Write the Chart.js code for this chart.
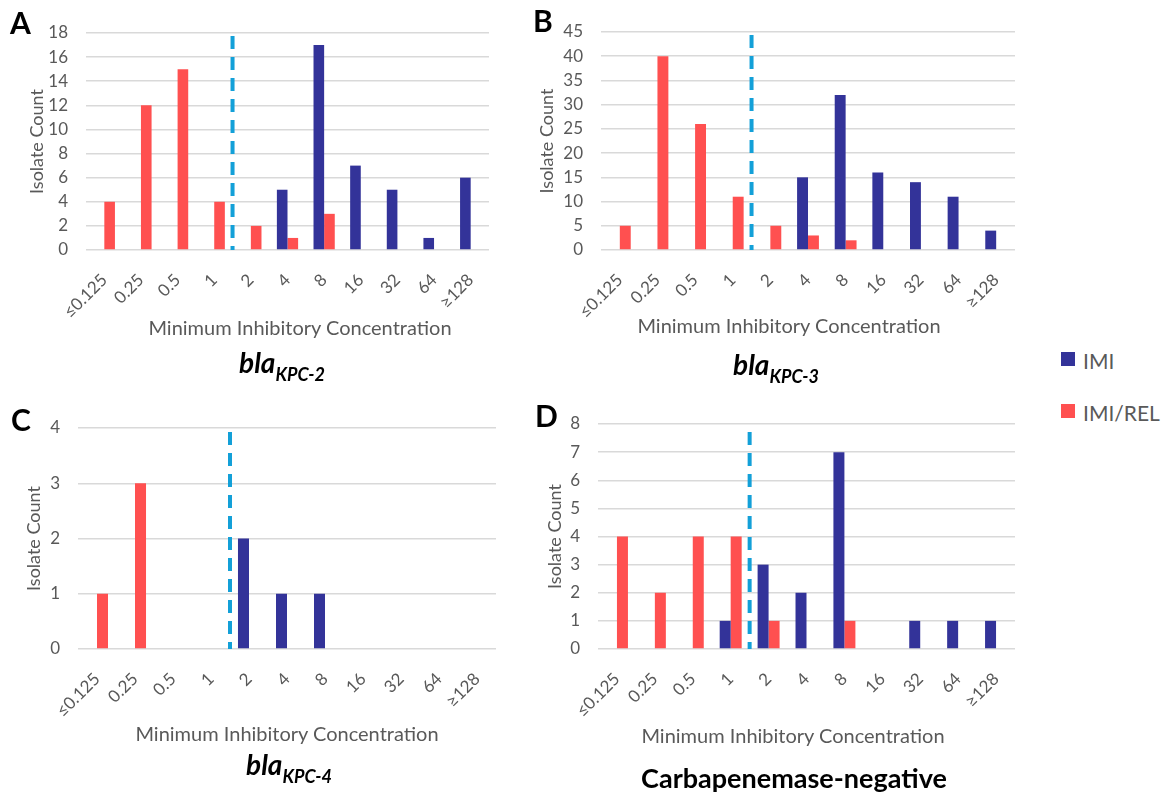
<!DOCTYPE html>
<html>
<head>
<meta charset="utf-8">
<script src="https://cdn.jsdelivr.net/npm/chart.js@4.4.1/dist/chart.umd.min.js"></script>
<style>
  html, body { margin: 0; padding: 0; background: #fff; }
  #page { position: relative; width: 1165px; height: 793px; overflow: hidden; background: #fff; font-family: Lato, "Open Sans", sans-serif; }
  .box { position: absolute; }
  .t { position: absolute; white-space: nowrap; line-height: 1; transform: translate(-50%, -50%); }
  .letter { position: absolute; font-weight: 700; font-size: 30px; color: #000; line-height: 1; }
  .sw { position: absolute; width: 14px; height: 14px; }
  .lg { position: absolute; font-size: 21px; color: #595959; line-height: 1; transform: translateY(-50%); }
</style>
</head>
<body>
<div id="page"></div>
<script>
// ---------- data ----------
const micLabels = ['≤0.125', '0.25', '0.5', '1', '2', '4', '8', '16', '32', '64', '≥128'];
const seriesNames = ['IMI', 'IMI/REL'];

const kpc2Imi    = [0, 0, 0, 0, 0, 5, 17, 7, 5, 1, 6];
const kpc2ImiRel = [4, 12, 15, 4, 2, 1, 3, 0, 0, 0, 0];

const kpc3Imi    = [0, 0, 0, 0, 0, 15, 32, 16, 14, 11, 4];
const kpc3ImiRel = [5, 40, 26, 11, 5, 3, 2, 0, 0, 0, 0];

const kpc4Imi    = [0, 0, 0, 0, 2, 1, 1, 0, 0, 0, 0];
const kpc4ImiRel = [1, 3, 0, 0, 0, 0, 0, 0, 0, 0, 0];

const negImi     = [0, 0, 0, 1, 3, 2, 7, 0, 1, 1, 1];
const negImiRel  = [4, 2, 4, 4, 1, 0, 1, 0, 0, 0, 0];

const yMaxA = 18, yStepA = 2;
const yMaxB = 45, yStepB = 5;
const yMaxC = 4,  yStepC = 1;
const yMaxD = 8,  yStepD = 1;

// breakpoint drawn between the "1" and "2" categories
const breakpointAt = 3.5;

// ---------- styles ----------
const IMI_COLOR = '#333399';
const REL_COLOR = '#FF5050';
const TICK_COLOR = '#595959';
const GRID_COLOR = '#D9D9D9';
const CUT_COLOR = '#13A0D8';
const FONT = 'Lato';

const cutoffPlugin = {
  id: 'cutoff',
  afterDatasetsDraw(chart, args, opts) {
    const xs = chart.scales.x, ys = chart.scales.y;
    const x = xs.getPixelForValue(opts.at);
    const yBottom = ys.getPixelForValue(0);
    const yTop = ys.getPixelForValue(ys.max) + opts.gap;
    const ctx = chart.ctx;
    ctx.save();
    ctx.strokeStyle = opts.color;
    ctx.lineWidth = opts.width;
    ctx.setLineDash(opts.dash);
    ctx.beginPath();
    ctx.moveTo(x, yTop);
    ctx.lineTo(x, yBottom);
    ctx.stroke();
    ctx.restore();
  }
};

const page = document.getElementById('page');

function makePanel(p) {
  const wrap = document.createElement('div');
  wrap.className = 'box';
  wrap.style.left = p.L + 'px';
  wrap.style.top = p.T + 'px';
  wrap.style.width = p.W + 'px';
  wrap.style.height = p.H + 'px';
  const cv = document.createElement('canvas');
  cv.width = p.W; cv.height = p.H;
  cv.style.width = p.W + 'px'; cv.style.height = p.H + 'px';
  wrap.appendChild(cv);
  page.appendChild(wrap);

  new Chart(cv, {
    type: 'bar',
    data: {
      labels: micLabels,
      datasets: [
        { label: seriesNames[0], data: p.imi, backgroundColor: IMI_COLOR, borderWidth: 0 },
        { label: seriesNames[1], data: p.rel, backgroundColor: REL_COLOR, borderWidth: 0 }
      ]
    },
    options: {
      responsive: false,
      devicePixelRatio: 1,
      animation: false,
      categoryPercentage: 0.58,
      barPercentage: 1,
      layout: { padding: { left: 0, top: p.padTop, right: p.padRight, bottom: p.padBottom } },
      plugins: {
        legend: { display: false },
        tooltip: { enabled: false },
        cutoff: { at: breakpointAt, color: CUT_COLOR, width: 4, dash: [13, 8], gap: p.cutGap }
      },
      scales: {
        x: {
          grid: { display: false },
          border: { display: false },
          ticks: {
            autoSkip: false, minRotation: 45, maxRotation: 45, padding: 12,
            color: TICK_COLOR, font: { family: FONT, size: 17 }
          },
          afterFit(s) { s.height = 90; }
        },
        y: {
          min: 0, max: p.yMax,
          grid: { color: GRID_COLOR, lineWidth: 1.5, drawTicks: false },
          border: { display: false },
          ticks: { stepSize: p.yStep, padding: 18, color: TICK_COLOR, font: { family: FONT, size: 17 } },
          title: {
            display: true, text: 'Isolate Count', color: TICK_COLOR,
            font: { family: FONT, size: 18 }, padding: { top: p.titlePad, bottom: 0 }
          },
          afterFit(s) { s.width = p.yWidth; }
        }
      }
    },
    plugins: [cutoffPlugin]
  });
}

// Panel A
makePanel({ L: 0, T: 0, W: 540, H: 390, yWidth: 86, padTop: 33, padRight: 51, padBottom: 50,
  titlePad: 26, yMax: yMaxA, yStep: yStepA, imi: kpc2Imi, rel: kpc2ImiRel, cutGap: 3 });
// Panel B
makePanel({ L: 500, T: 0, W: 560, H: 390, yWidth: 101, padTop: 32, padRight: 45, padBottom: 50,
  titlePad: 36, yMax: yMaxB, yStep: yStepB, imi: kpc3Imi, rel: kpc3ImiRel, cutGap: 3 });
// Panel C
makePanel({ L: 0, T: 395, W: 540, H: 398, yWidth: 78, padTop: 33, padRight: 44, padBottom: 54,
  titlePad: 23, yMax: yMaxC, yStep: yStepC, imi: kpc4Imi, rel: kpc4ImiRel, cutGap: 4 });
// Panel D
makePanel({ L: 500, T: 395, W: 560, H: 398, yWidth: 98, padTop: 29, padRight: 45, padBottom: 54,
  titlePad: 44, yMax: yMaxD, yStep: yStepD, imi: negImi, rel: negImiRel, cutGap: 8 });

// ---------- text ----------
function addText(html, cx, cy, style) {
  const d = document.createElement('div');
  d.className = 't';
  d.innerHTML = html;
  d.style.left = cx + 'px';
  d.style.top = cy + 'px';
  Object.assign(d.style, style || {});
  page.appendChild(d);
  return d;
}
function addLetter(ch, x, y) {
  const d = document.createElement('div');
  d.className = 'letter';
  d.textContent = ch;
  d.style.left = x + 'px';
  d.style.top = y + 'px';
  page.appendChild(d);
}

const axisStyle = { fontSize: '20px', color: TICK_COLOR };
addText('Minimum Inhibitory Concentration', 300, 327, axisStyle);
addText('Minimum Inhibitory Concentration', 789, 325, axisStyle);
addText('Minimum Inhibitory Concentration', 287, 733, axisStyle);
addText('Minimum Inhibitory Concentration', 793, 735, axisStyle);

const geneStyle = { fontSize: '28px', fontWeight: '700', fontStyle: 'italic', color: '#000' };
function gene(sub) {
  return 'bla<span style="font-size:18px;position:relative;top:8px;">' + sub + '</span>';
}
addText(gene('KPC-2'), 282, 362, geneStyle);
addText(gene('KPC-3'), 776, 364, geneStyle);
addText(gene('KPC-4'), 289, 764, geneStyle);
addText('Carbapenemase-negative', 794, 777, { fontSize: '27px', fontWeight: '700', color: '#000' });

addLetter('A', 10, 7);
addLetter('B', 533, 5);
addLetter('C', 11, 404);
addLetter('D', 535, 400);

// legend
function legendItem(color, label, y) {
  const s = document.createElement('div');
  s.className = 'sw';
  s.style.left = '1061px';
  s.style.top = (y - 7) + 'px';
  s.style.background = color;
  page.appendChild(s);
  const t = document.createElement('div');
  t.className = 'lg';
  t.textContent = label;
  t.style.left = '1083px';
  t.style.top = (y + 1) + 'px';
  page.appendChild(t);
}
legendItem(IMI_COLOR, seriesNames[0], 359);
legendItem(REL_COLOR, seriesNames[1], 411);
</script>
</body>
</html>
